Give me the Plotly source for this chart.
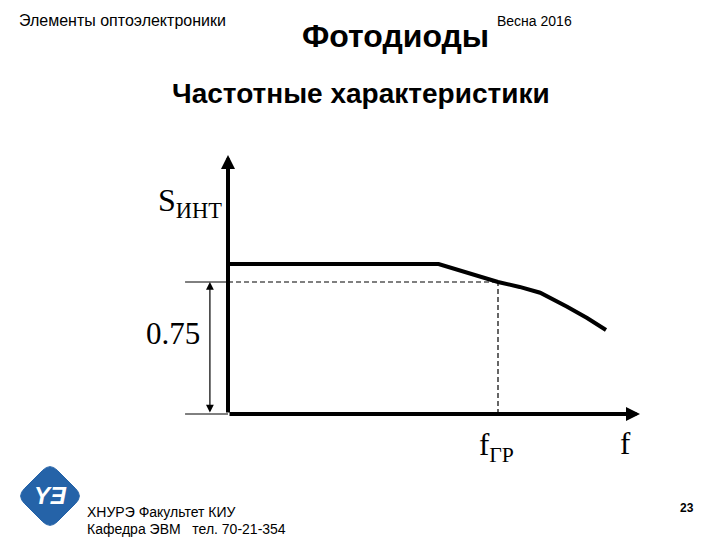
import plotly.graph_objects as go

# ---- data (relative units: f in units of f_gr, S relative) ----
f_curve = [0.0, 0.78, 1.0, 1.080, 1.156, 1.256, 1.330, 1.400]
s_curve = [0.852, 0.852, 0.75, 0.722, 0.689, 0.610, 0.545, 0.477]
f_gr = 1.0
s_level = 0.75
f_axis_max = 1.526
s_axis_max = 1.472
f_ext = -0.159      # left end of extension lines
f_dim = -0.067      # dimension arrow position

W, H = 720, 540
# axis ranges chosen so that the figure maps to the slide
x_range = [-228 / 270, (W - 228) / 270]
y_range = [-(H - 414) / 176, 414 / 176]


def px(x, y):
    return x / W, 1 - y / H


fig = go.Figure()

fig.add_trace(go.Scatter(x=f_curve, y=s_curve, mode="lines",
                         line=dict(color="black", width=4), hoverinfo="skip",
                         showlegend=False))

shapes = []
# extension lines
shapes.append(dict(type="line", x0=f_ext, y0=s_level, x1=0, y1=s_level,
                   line=dict(color="black", width=1)))
shapes.append(dict(type="line", x0=f_ext, y0=0, x1=0, y1=0,
                   line=dict(color="black", width=1)))
# dashed guide lines
shapes.append(dict(type="line", x0=0, y0=s_level, x1=f_gr, y1=s_level,
                   line=dict(color="black", width=1.2, dash="5px,3px")))
shapes.append(dict(type="line", x0=f_gr, y0=0, x1=f_gr, y1=s_level,
                   line=dict(color="black", width=1.2, dash="5px,3px")))

# logo: rounded diamond
cx, cy, r = 50, 496, 33
T, R, B, L = (cx, cy - r), (cx + r, cy), (cx, cy + r), (cx - r, cy)
corners = [T, R, B, L]
t = 0.22


def lerp(a, b, k):
    return (a[0] + (b[0] - a[0]) * k, a[1] + (b[1] - a[1]) * k)


path = ""
for i in range(4):
    c = corners[i]
    p_prev = corners[i - 1]
    p_next = corners[(i + 1) % 4]
    a = lerp(c, p_prev, t)
    b = lerp(c, p_next, t)
    ax_, ay_ = px(*a)
    bx_, by_ = px(*b)
    cx_, cy_ = px(*c)
    path += ("M" if i == 0 else "L") + f"{ax_},{ay_}"
    path += f"Q{cx_},{cy_} {bx_},{by_}"
path += "Z"
shapes.append(dict(type="path", xref="paper", yref="paper", path=path,
                   fillcolor="#2563a8", line=dict(color="#2563a8", width=1)))

annotations = []
# axes with arrowheads
annotations.append(dict(x=0, y=s_axis_max, ax=0, ay=0, xref="x", yref="y",
                        axref="x", ayref="y", text="", showarrow=True,
                        arrowhead=2, arrowsize=0.7, arrowwidth=4,
                        arrowcolor="black"))
annotations.append(dict(x=f_axis_max, y=0, ax=0, ay=0, xref="x", yref="y",
                        axref="x", ayref="y", text="", showarrow=True,
                        arrowhead=2, arrowsize=0.7, arrowwidth=4,
                        arrowcolor="black"))
# dimension arrow
annotations.append(dict(x=f_dim, y=s_level, ax=f_dim, ay=0, xref="x", yref="y",
                        axref="x", ayref="y", text="", showarrow=True,
                        arrowhead=2, startarrowhead=2, arrowside="end+start",
                        arrowsize=1.3, startarrowsize=1.3, arrowwidth=1.2,
                        arrowcolor="black"))

serif = "Liberation Serif, Times New Roman, serif"
sans = "Liberation Sans, Arial, sans-serif"

annotations += [
    dict(x=-0.142, y=1.20, xref="x", yref="y", text="S<sub>ИНТ</sub>",
         showarrow=False, font=dict(family=serif, size=32, color="black")),
    dict(x=-0.204, y=0.455, xref="x", yref="y", text="0.75",
         showarrow=False, font=dict(family=serif, size=31, color="black")),
    dict(x=0.995, y=-0.19, xref="x", yref="y", text="f<sub>ГР</sub>",
         showarrow=False, font=dict(family=serif, size=31, color="black")),
    dict(x=1.474, y=-0.17, xref="x", yref="y", text="f",
         showarrow=False, font=dict(family=serif, size=31, color="black")),
]

# slide texts (paper coords)
def ptext(x, y, text, size, bold=False, xanchor="left", color="black", family=sans):
    xx, yy = px(x, y)
    return dict(x=xx, y=yy, xref="paper", yref="paper", text=f"<b>{text}</b>" if bold else text,
                showarrow=False, xanchor=xanchor, yanchor="middle",
                font=dict(family=family, size=size, color=color))


annotations += [
    ptext(17, 21, "Элементы оптоэлектроники", 16),
    ptext(300, 36, "Фотодиоды", 32, bold=True),
    ptext(495, 21, "Весна 2016", 14),
    ptext(361, 94, "Частотные характеристики", 28, bold=True, xanchor="center"),
    ptext(85, 512, "ХНУРЭ Факультет КИУ", 14),
    ptext(85, 529, "Кафедра ЭВМ   тел. 70-21-354", 14),
    ptext(687, 508, "23", 12, bold=True, xanchor="center"),
    ptext(50, 495, "<i>YƎ</i>", 24, bold=True, xanchor="center", color="white"),
]

fig.update_layout(
    width=W, height=H,
    margin=dict(l=0, r=0, t=0, b=0),
    paper_bgcolor="white", plot_bgcolor="white",
    xaxis=dict(range=x_range, visible=False, fixedrange=True),
    yaxis=dict(range=y_range, visible=False, fixedrange=True),
    shapes=shapes, annotations=annotations, showlegend=False,
    hovermode=False,
)

fig.write_html("out.html",
               config={"displayModeBar": False, "staticPlot": True},
               post_script="document.body.style.margin='0px';document.body.style.overflow='hidden';")
